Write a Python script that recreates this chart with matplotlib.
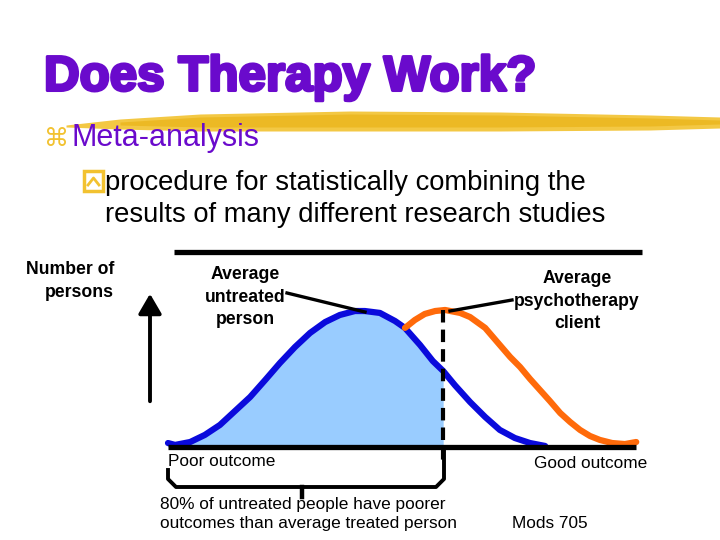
import matplotlib.pyplot as plt
import matplotlib.patheffects as pe
from matplotlib.patches import Rectangle, FancyArrowPatch
import numpy as np

# outcome scale 0..100 (poor -> good), density 0..1 (number of persons)
untreated_x = np.array([0, 1.5, 4.7, 7.8, 11.0, 14.2, 17.4, 20.6, 23.7, 26.9, 30.1, 33.3, 36.4, 39.6,
                        41.7, 44.9, 48.1, 50.2, 53.4, 56.1, 58.3, 60.8, 64.0, 67.2, 70.3, 73.5, 76.7, 79.9])
untreated_y = np.array([0.027, 0.014, 0.034, 0.082, 0.15, 0.245, 0.34, 0.456, 0.571, 0.68, 0.776, 0.85, 0.898, 0.925,
                        0.925, 0.912, 0.857, 0.81, 0.694, 0.585, 0.517, 0.42, 0.306, 0.204, 0.116, 0.061, 0.027, 0.007])

treated_x = np.array([50.2, 52.3, 54.4, 56.6, 58.7, 61.9, 64.0, 67.2, 70.3, 72.5, 74.6, 76.7, 78.8, 80.9,
                      83.1, 85.2, 87.3, 89.4, 91.5, 94.1, 96.8, 99.2])
treated_y = np.array([0.81, 0.864, 0.905, 0.925, 0.932, 0.912, 0.884, 0.81, 0.694, 0.612, 0.544, 0.463, 0.388, 0.313,
                      0.231, 0.17, 0.116, 0.075, 0.048, 0.027, 0.02, 0.034])

treated_mean = 58.3
title = 'Does Therapy Work?'
bullet1 = 'Meta-analysis'
bullet2 = 'procedure for statistically combining the\nresults of many different research studies'

purple = '#6A0ACC'
gold = '#F2C230'

fig = plt.figure(figsize=(7.2, 5.4), dpi=100)

# chart area (curves)
ax = fig.add_axes([168 / 720, (540 - 447) / 540, 472 / 720, 147 / 540])
ax.set_xlim(0, 100)
ax.set_ylim(0, 1)
ax.axis('off')

# overlay for slide text and frame lines
bg = fig.add_axes([0, 0, 1, 1])
bg.set_xlim(0, 720)
bg.set_ylim(540, 0)
bg.axis('off')
bg.patch.set_visible(False)

mask = untreated_x <= treated_mean
ax.fill_between(untreated_x[mask], 0, untreated_y[mask], color='#99CCFF', lw=0)
ax.plot(untreated_x, untreated_y, color='#0A0ADC', lw=4.5, clip_on=False, solid_capstyle='round')
ax.plot(treated_x, treated_y, color='#FF6A0A', lw=4.5, clip_on=False, solid_capstyle='round')
ax.plot([treated_mean, treated_mean], [0.93, -0.09], color='black', lw=3, ls=(0, (3, 1.7)), clip_on=False)

# header
bg.text(44, 78, title, fontsize=35.5, fontweight='bold', color=purple, family='Liberation Sans',
        va='center', path_effects=[pe.withStroke(linewidth=2.2, foreground=purple)])
# brush stroke
bx = np.array([66, 120, 200, 350, 500, 650, 720])
btop = np.array([125, 119, 114, 111, 112, 115, 117])
bbot = np.array([127, 129, 131, 131, 131, 130, 128])
bg.fill_between(bx, btop, bbot, color=gold, alpha=0.9, lw=0)
bg.fill_between(bx[1:], btop[1:] + 3, bbot[1:] - 4, color='#E8B010', alpha=0.6, lw=0)

bg.text(44, 139, '\u2318', fontsize=18, color=gold, family='DejaVu Sans', va='center')
bg.text(72, 138, bullet1, fontsize=22, color=purple, family='Liberation Sans', va='center')

bg.add_patch(Rectangle((84, 171), 19, 20, fill=False, ec=gold, lw=2.5))
bg.plot([88, 93.5, 99], [185, 178, 185], color=gold, lw=2)
bg.text(105, 199, bullet2, fontsize=19.7, color='black', family='Liberation Sans',
        va='center', linespacing=1.32)

# axes frame lines
bg.plot([168, 636], [447, 447], color='black', lw=3.8, solid_capstyle='butt')
bg.plot([174, 642], [252, 252], color='black', lw=3.8, solid_capstyle='butt')
bg.add_patch(FancyArrowPatch((150, 404), (150, 291), arrowstyle='-|>,head_length=6,head_width=3.5',
                             color='black', lw=2.8, mutation_scale=2))

# annotations
bold = dict(fontsize=12.7, fontweight='bold', family='Liberation Sans')
bg.text(114, 281, 'Number of\npersons', ha='right', va='center', linespacing=1.5, **bold)
bg.text(245, 297, 'Average\nuntreated\nperson', ha='center', va='center', linespacing=1.45, **bold)
bg.text(577, 301, 'Average\npsychotherapy\nclient', ha='center', va='center', linespacing=1.4, **bold)
bg.plot([287, 365], [293, 312], color='black', lw=2.4)
bg.plot([450, 512], [311, 300], color='black', lw=2.4)

normal = dict(fontsize=12.4, family='Liberation Sans')
bg.text(168, 462, 'Poor outcome', va='center', **normal)
bg.text(534, 463, 'Good outcome', va='center', **normal)
bg.text(160, 514, '80% of untreated people have poorer\noutcomes than average treated person',
        va='center', linespacing=1.4, **normal)
bg.text(512, 523, 'Mods 705', va='center', **normal)

# brace
bg.plot([168, 168, 176, 436, 444, 444], [470, 479, 487, 487, 479, 447], color='black', lw=2.8,
        solid_joinstyle='round')
bg.plot([302, 302], [487, 497], color='black', lw=3.2)

fig.savefig('out.png', dpi=100)
